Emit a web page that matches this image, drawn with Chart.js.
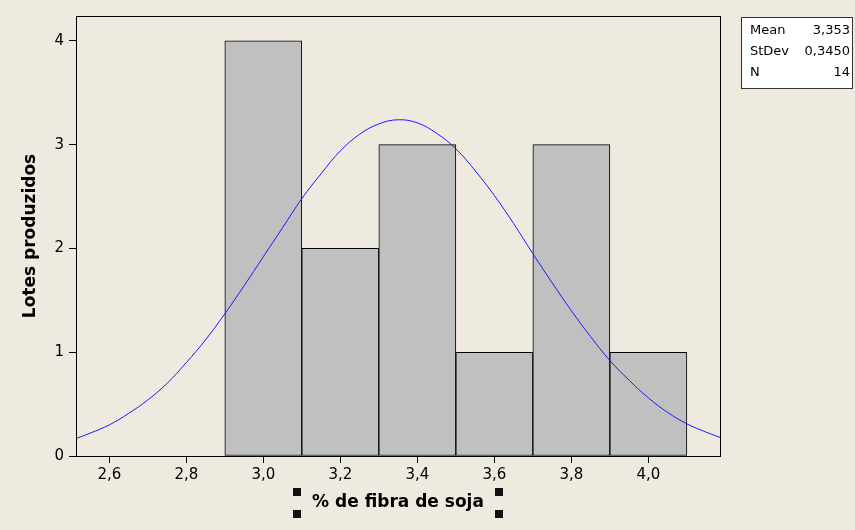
<!DOCTYPE html>
<html>
<head>
<meta charset="utf-8">
<script src="https://cdn.jsdelivr.net/npm/chart.js@4"></script>
<style>
  html, body { margin: 0; padding: 0; background: #EEEAE0; }
  #wrap { width: 855px; height: 530px; }
</style>
</head>
<body>
<div id="wrap"><canvas id="histogram"></canvas></div>
<script>
// Histogram bins (bin midpoints) and counts
const binMids = [3.0, 3.2, 3.4, 3.6, 3.8, 4.0];
const counts = [4, 2, 3, 1, 3, 1];

// Fitted normal curve
const curveX = [2.50, 2.55, 2.60, 2.65, 2.70, 2.75, 2.80, 2.85, 2.90, 2.95, 3.00, 3.05, 3.10, 3.15, 3.20, 3.25, 3.30, 3.35,
                3.40, 3.45, 3.50, 3.55, 3.60, 3.65, 3.70, 3.75, 3.80, 3.85, 3.90, 3.95, 4.00, 4.05, 4.10, 4.15, 4.20];
const curveY = [0.15, 0.22, 0.30, 0.41, 0.54, 0.70, 0.90, 1.12, 1.37, 1.64, 1.92, 2.20, 2.48, 2.72, 2.94, 3.10, 3.20, 3.24,
                3.21, 3.11, 2.96, 2.75, 2.51, 2.24, 1.95, 1.67, 1.40, 1.15, 0.92, 0.73, 0.56, 0.42, 0.31, 0.23, 0.16];

// Tick labels
const xTicks = [2.6, 2.8, 3.0, 3.2, 3.4, 3.6, 3.8, 4.0];
const yTicks = [0, 1, 2, 3, 4];

// Summary box
const statLabels = ['Mean', 'StDev', 'N'];
const statValues = ['3,353', '0,3450', '14'];

const FONT = '"DejaVu Sans", Verdana, sans-serif';

// Draws the frame round the plot, the stats box and the selection handles
const extras = {
    id: 'extras',
    afterDatasetsDraw(chart) {
        const { ctx, chartArea: a } = chart;
        ctx.save();
        ctx.strokeStyle = '#000';
        ctx.lineWidth = 1;
        ctx.strokeRect(Math.round(a.left) + 0.5, Math.round(a.top) + 0.5,
            Math.round(a.right - a.left), Math.round(a.bottom - a.top));

        // stats box
        ctx.fillStyle = '#fff';
        ctx.fillRect(741, 17, 111, 71);
        ctx.strokeStyle = '#333';
        ctx.strokeRect(741.5, 17.5, 111, 71);
        ctx.fillStyle = '#000';
        ctx.font = '13px ' + FONT;
        ctx.textBaseline = 'middle';
        statLabels.forEach((lab, i) => {
            const y = 31 + i * 21;
            ctx.textAlign = 'left';
            ctx.fillText(lab, 750, y);
            ctx.textAlign = 'right';
            ctx.fillText(statValues[i], 850, y);
        });

        // selection handles round the x title
        ctx.fillStyle = '#111';
        [[293, 488], [293, 510], [495, 488], [495, 510]].forEach(([x, y]) => {
            ctx.fillRect(x, y, 8, 8);
        });
        ctx.restore();
    }
};

new Chart(document.getElementById('histogram'), {
    data: {
        datasets: [
            {
                type: 'line',
                data: curveX.map((x, i) => ({ x: x, y: curveY[i] })),
                borderColor: '#1a1aff',
                borderWidth: 1,
                pointRadius: 0,
                tension: 0.4,
                order: 0
            },
            {
                type: 'bar',
                data: binMids.map((x, i) => ({ x: x, y: counts[i] })),
                backgroundColor: '#C0C0C0',
                borderColor: '#000',
                borderWidth: 1,
                borderSkipped: false,
                barPercentage: 1,
                categoryPercentage: 1,
                order: 1
            }
        ]
    },
    options: {
        responsive: true,
        maintainAspectRatio: false,
        animation: false,
        events: [],
        layout: { padding: { left: 0, top: 16, right: 135, bottom: 0 } },
        plugins: { legend: { display: false }, tooltip: { enabled: false } },
        scales: {
            x: {
                type: 'linear',
                min: 2.5135,
                max: 4.186,
                offset: false,
                afterBuildTicks: scale => { scale.ticks = xTicks.map(v => ({ value: v })); },
                afterFit: scale => { scale.height = 74; },
                ticks: {
                    color: '#000',
                    font: { family: FONT, size: 15 },
                    padding: 3,
                    callback: v => v.toFixed(1).replace('.', ',')
                },
                grid: { display: true, offset: false, drawOnChartArea: false, drawTicks: true, tickLength: 7, color: '#000' },
                border: { display: true, color: '#000' },
                title: {
                    display: true,
                    text: '% de fibra de soja',
                    color: '#000',
                    font: { family: FONT, size: 17, weight: 'bold' },
                    padding: { top: 0, bottom: 17 }
                }
            },
            y: {
                min: 0,
                max: 4.24,
                afterBuildTicks: scale => { scale.ticks = yTicks.map(v => ({ value: v })); },
                afterFit: scale => { scale.width = 76; },
                ticks: {
                    color: '#000',
                    font: { family: FONT, size: 15 },
                    padding: 5
                },
                grid: { display: true, drawOnChartArea: false, drawTicks: true, tickLength: 7, color: '#000' },
                border: { display: true, color: '#000' },
                title: {
                    display: true,
                    text: 'Lotes produzidos',
                    color: '#000',
                    font: { family: FONT, size: 17, weight: 'bold' },
                    padding: { top: 20, bottom: 0 }
                }
            }
        }
    },
    plugins: [extras]
});
</script>
</body>
</html>
